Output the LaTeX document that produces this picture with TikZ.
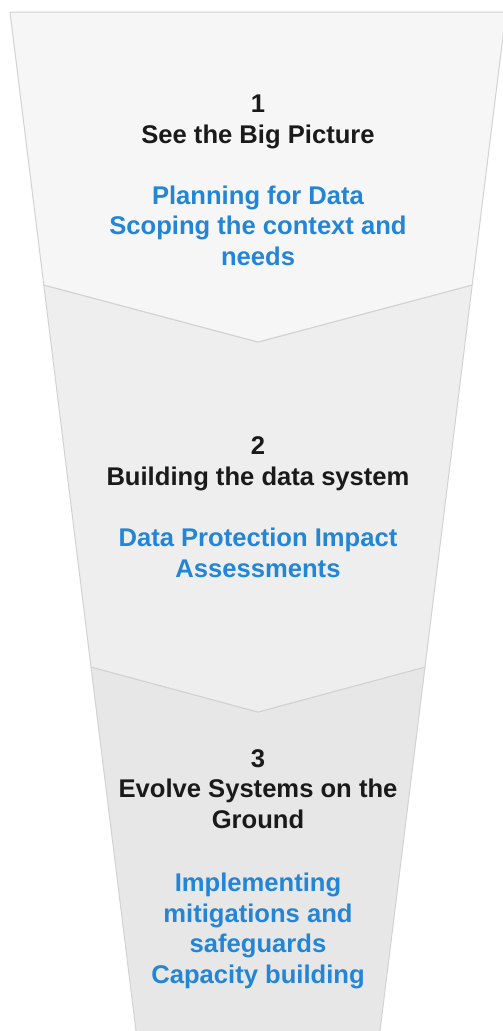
\documentclass[tikz,border=0pt]{standalone}
\usepackage{fontspec}
\setmainfont{Liberation Sans}
\definecolor{edgegray}{HTML}{D2D2D2}
\definecolor{fillone}{HTML}{F6F6F6}
\definecolor{filltwo}{HTML}{EEEEEE}
\definecolor{fillthree}{HTML}{E7E7E7}
\definecolor{titleblack}{HTML}{1A1A1A}
\definecolor{stepblue}{HTML}{2385D6}
\tikzset{
  band/.style={draw=edgegray, line width=1pt, line join=round},
  stagetitle/.style={align=center, anchor=base, inner sep=0pt, text=titleblack,
    font=\fontsize{25.6}{30.5}\selectfont\bfseries},
  stagebody/.style={align=center, anchor=base, inner sep=0pt, text=stepblue,
    font=\fontsize{25.6}{30.5}\selectfont\bfseries},
}
\begin{document}
\begin{tikzpicture}[x=1pt,y=-1pt]
\useasboundingbox (0,0) rectangle (503,1031);
\clip (0,0) rectangle (503,1031);
% funnel geometry
\coordinate (TL) at (10,12);
\coordinate (TR) at (506,12);
\coordinate (AL) at (43.8,285);
\coordinate (AR) at (472.2,285);
\coordinate (AT) at (258,342);
\coordinate (BL) at (91,667);
\coordinate (BR) at (425,667);
\coordinate (BT) at (258,712);
\coordinate (CL) at (137.5,1043);
\coordinate (CR) at (378.5,1043);
% bands
\path[band, fill=fillthree] (BL) -- (BT) -- (BR) -- (CR) -- (CL) -- cycle;
\path[band, fill=filltwo] (AL) -- (AT) -- (AR) -- (BR) -- (BT) -- (BL) -- cycle;
\path[band, fill=fillone] (TL) -- (TR) -- (AR) -- (AT) -- (AL) -- cycle;
% texts (base anchor = baseline of the last line)
\node[stagetitle] (t1) at (258,143) {1\\See the Big Picture};
\node[stagebody] (b1) at (258,265) {Planning for Data\\Scoping the context and\\needs};
\node[stagetitle] (t2) at (258,485) {2\\Building the data system};
\node[stagebody] (b2) at (258,577) {Data Protection Impact\\Assessments};
\node[stagetitle] (t3) at (258,828) {3\\Evolve Systems on the\\Ground};
\node[stagebody] (b3) at (258,983) {Implementing\\mitigations and\\safeguards\\Capacity building};
\end{tikzpicture}
\end{document}
